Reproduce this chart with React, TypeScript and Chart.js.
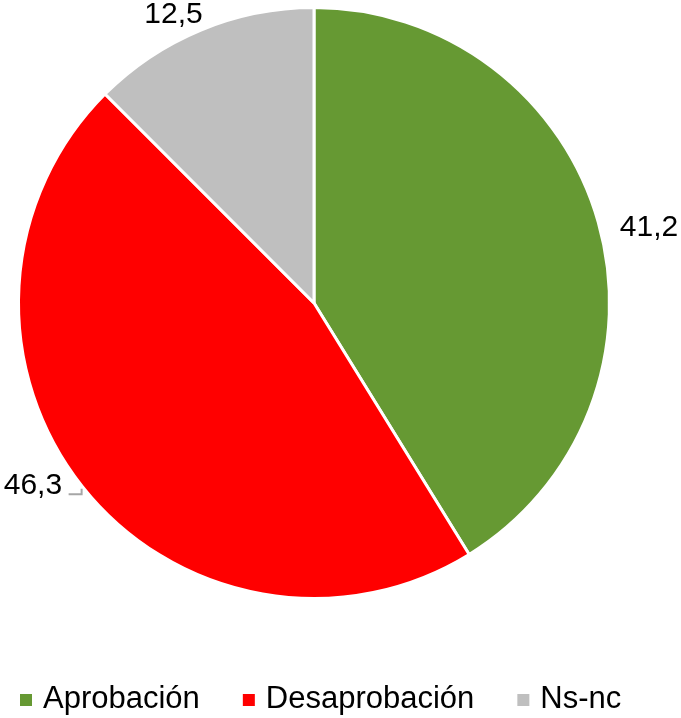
import React, { useEffect, useRef } from "react";
import { Chart, registerables } from "chart.js";

Chart.register(...registerables);

const categories = ["Aprobación", "Desaprobación", "Ns-nc"];
const values = [41.2, 46.3, 12.5];
const colors = ["#669933", "#FF0000", "#BFBFBF"];

const FONT = '"Liberation Sans", Arial, Helvetica, sans-serif';
// pixel nudges applied to the radial anchor of each value label (style only)
const labelNudges = [
  [13.7, 15.8],
  [-19.1, -24.4],
  [-12.7, 20.6],
];

const fmt = (v: number) => v.toFixed(1).replace(".", ",");

const valueLabels = {
  id: "valueLabels",
  afterDatasetsDraw(chart: any) {
    const ctx = chart.ctx;
    const meta = chart.getDatasetMeta(0);
    ctx.save();
    ctx.font = `30px ${FONT}`;
    ctx.fillStyle = "#000000";
    ctx.textAlign = "center";
    ctx.textBaseline = "middle";
    meta.data.forEach((arc: any, i: number) => {
      const { x, y, startAngle, endAngle, outerRadius } = arc.getProps(
        ["x", "y", "startAngle", "endAngle", "outerRadius"],
        true
      );
      const mid = (startAngle + endAngle) / 2;
      const r = outerRadius + 38.5;
      const px = x + Math.cos(mid) * r + labelNudges[i][0];
      const py = y + Math.sin(mid) * r + labelNudges[i][1];
      const text = fmt(values[i]);
      ctx.fillText(text, px, py);
      if (i === 1) {
        const w = ctx.measureText(text).width;
        const sx = px + w / 2 + 6.5;
        ctx.strokeStyle = "#A6A6A6";
        ctx.lineWidth = 2;
        ctx.beginPath();
        ctx.moveTo(sx, py + 8.5);
        ctx.lineTo(sx + 13, py + 8.5);
        ctx.lineTo(sx + 13, py + 3);
        ctx.stroke();
      }
    });
    ctx.restore();
  },
};

const bottomLegend = {
  id: "bottomLegend",
  afterDraw(chart: any) {
    const ctx = chart.ctx;
    const labels: string[] = chart.data.labels;
    const bg: string[] = chart.data.datasets[0].backgroundColor;
    ctx.save();
    ctx.font = `31px ${FONT}`;
    ctx.textAlign = "left";
    ctx.textBaseline = "middle";
    let x = 20;
    const cy = 700;
    labels.forEach((lab, i) => {
      ctx.fillStyle = bg[i];
      ctx.fillRect(x, cy - 6, 12, 12);
      x += 23;
      ctx.fillStyle = "#000000";
      ctx.fillText(lab, x, cy - 0.5);
      x += ctx.measureText(lab).width + 43;
    });
    ctx.restore();
  },
};

export default function App() {
  const ref = useRef<HTMLCanvasElement | null>(null);
  useEffect(() => {
    if (!ref.current) return;
    const chart = new Chart(ref.current, {
      type: "pie",
      data: {
        labels: categories,
        datasets: [
          {
            data: values,
            backgroundColor: colors,
            borderColor: "#FFFFFF",
            borderWidth: 3,
            hoverOffset: 0,
          },
        ],
      },
      options: {
        responsive: false,
        animation: false,
        events: [],
        radius: 295.5,
        layout: { padding: { left: 0, right: 53, top: 0, bottom: 112 } },
        plugins: {
          legend: { display: false },
          tooltip: { enabled: false },
        },
      } as any,
      plugins: [valueLabels, bottomLegend],
    });
    return () => chart.destroy();
  }, []);
  return (
    <div style={{ position: "absolute", left: 0, top: 0, width: 681, height: 718, background: "#fff" }}>
      <canvas ref={ref} width={681} height={718} style={{ display: "block", width: 681, height: 718 }} />
    </div>
  );
}
